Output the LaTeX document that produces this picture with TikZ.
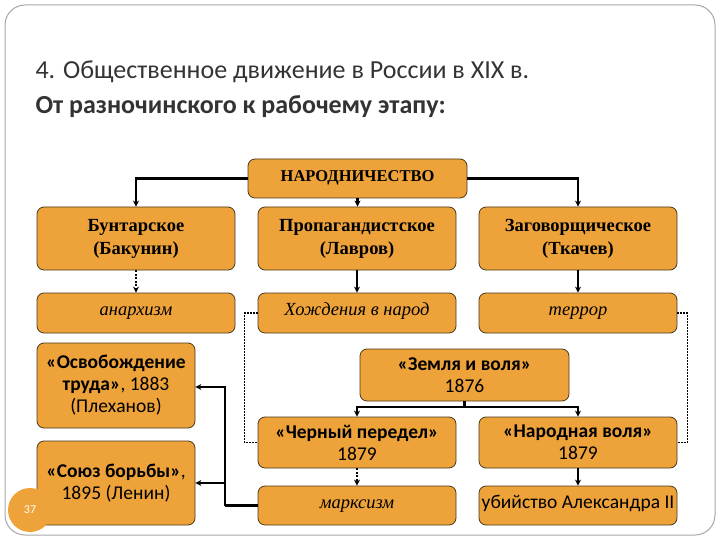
\documentclass[tikz,border=0pt]{standalone}
\usepackage{fontspec}
\setmainfont{Carlito}
\newfontfamily\serf{Liberation Serif}
\usetikzlibrary{arrows.meta}
\definecolor{boxor}{HTML}{EDA23A}
\definecolor{boxbd}{HTML}{4A3A20}
\tikzset{
  bx/.style={draw=boxbd,line width=0.8pt,fill=boxor,rounded corners=7pt,align=center,inner sep=0pt},
  one/.style={text height=1.5ex,text depth=0.4ex},
  con/.style={line width=2.2pt,-{Stealth[length=6pt,width=6pt]}},
  dcon/.style={line width=2.2pt,dash pattern=on 2pt off 1.5pt,-{Stealth[length=6pt,width=6pt]}},
  dot/.style={line width=1.3pt,dash pattern=on 1.5pt off 1.5pt},
  sb/.style={font=\serf\bfseries\fontsize{18.5}{23}\selectfont},
  si/.style={font=\serf\itshape\fontsize{18.5}{22}\selectfont},
  cb/.style={font=\fontsize{19.5}{22}\selectfont}
}
\begin{document}
\begin{tikzpicture}[x=1pt,y=-1pt]
\useasboundingbox (0,0) rectangle (720,540);
\draw[gray!70,line width=1pt,rounded corners=20pt] (5,5) rectangle (715,535);
\node[anchor=west,font=\fontsize{26}{30}\selectfont,text=black!80] (t1) at (32,72) {4. Общественное движение в России в XIX в.};
\node[anchor=west,font=\bfseries\fontsize{26}{30}\selectfont,text=black!80] (t2) at (32,107) {От разночинского к рабочему этапу:};
% boxes
\node[bx,one,font=\serf\bfseries\fontsize{16.5}{18}\selectfont,minimum width=219pt,minimum height=39pt] (nar) at (357.5,178.5) {НАРОДНИЧЕСТВО};
\node[bx,sb,minimum width=198pt,minimum height=63pt] (b1) at (136,238.5) {Бунтарское\\(Бакунин)};
\node[bx,sb,minimum width=198pt,minimum height=63pt] (b2) at (357,238.5) {Пропагандистское\\(Лавров)};
\node[bx,sb,minimum width=198pt,minimum height=63pt] (b3) at (578,238.5) {Заговорщическое\\(Ткачев)};
\node[bx,si,one,minimum width=198pt,minimum height=40pt] (c1) at (136,313) {анархизм};
\node[bx,si,one,minimum width=198pt,minimum height=40pt] (c2) at (357,313) {Хождения в народ};
\node[bx,si,one,minimum width=198pt,minimum height=40pt] (c3) at (578,313) {террор};
\node[bx,cb,minimum width=158pt,minimum height=85pt] (osv) at (116,385.5) {\textbf{«Освобождение}\\\textbf{труда»}, 1883\\(Плеханов)};
\node[bx,cb,minimum width=158pt,minimum height=84pt] (soy) at (116,483) {\textbf{«Союз борьбы»},\\1895 (Ленин)};
\node[bx,cb,minimum width=209pt,minimum height=52pt] (zv) at (464.5,375) {\textbf{«Земля и воля»}\\1876};
\node[bx,cb,minimum width=198pt,minimum height=51pt] (cp) at (357,442.5) {\textbf{«Черный передел»}\\1879};
\node[bx,cb,minimum width=198pt,minimum height=51pt] (nv) at (578,442.5) {\textbf{«Народная воля»}\\1879};
\node[bx,si,one,minimum width=198pt,minimum height=39pt] (mx) at (357,505.5) {марксизм};
\node[bx,cb,one,minimum width=198pt,minimum height=39pt] (ua) at (578,505.5) {убийство Александра II};
\node[circle,fill=boxor,minimum size=44pt,text=white,font=\fontsize{12}{14}\selectfont] (pg) at (30,510) {37};
% connectors
\draw[con] (nar.west) -| (b1.north);
\draw[con] (nar.south) -- (nar.south |- b2.north);
\draw[con] (nar.east) -| (b3.north);
\draw[dcon] (b1.south) -- (c1.north);
\draw[con] (b2.south) -- (c2.north);
\draw[con] (b3.south) -- (c3.north);
\draw[dot] (c2.west) -- ++(-13,0) |- (cp.west);
\draw[dot] (c3.east) -- ++(10,0) |- (nv.east);
\coordinate (zj) at (464.5,407);
\draw[line width=2.2pt] (zv.south) -- (zj);
\draw[con] (zj) -| (cp.north);
\draw[con] (zj) -| (nv.north);
\draw[dcon] (cp.south) -- (mx.north);
\draw[con] (nv.south) -- (ua.north);
\coordinate (mj) at (225,505.5);
\draw[line width=2.2pt] (mx.west) -- (mj);
\draw[con] (mj) |- (osv.east |- 0,387);
\draw[con] (mj) |- (soy.east |- 0,483);
\end{tikzpicture}
\end{document}
